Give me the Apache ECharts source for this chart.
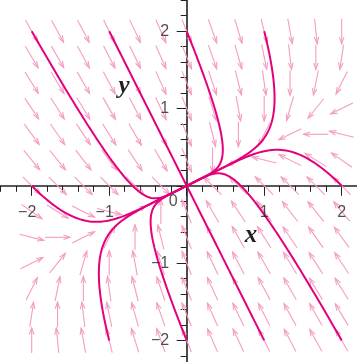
<!DOCTYPE html>
<html>
<head>
<meta charset="utf-8">
<script src="https://cdn.jsdelivr.net/npm/echarts@6/dist/echarts.min.js"></script>
<style>
  html, body { margin: 0; padding: 0; background: #ffffff; }
  #chart { width: 357px; height: 362px; }
</style>
</head>
<body>
<div id="chart"></div>
<script>
// Linear system:  x' = a11*x + a12*y ,  y' = a21*x + a22*y
const systemA = [[-2, 2], [2, -5]];

// Sample positions of the direction field (every 1/3 unit)
const fieldXs = [-2, -5 / 3, -4 / 3, -1, -2 / 3, -1 / 3, 0, 1 / 3, 2 / 3, 1, 4 / 3, 5 / 3, 2];
const fieldYs = [-2, -5 / 3, -4 / 3, -1, -2 / 3, -1 / 3, 0, 1 / 3, 2 / 3, 1, 4 / 3, 5 / 3, 2];

// Initial points of the plotted solution curves
const startPoints = [
  [-2, 2], [-1, 2], [0, 2], [1, 2], [2, 0],
  [2, -2], [1, -2], [0, -2], [-1, -2], [-2, 0]
];

// Axis extent, tick spacing and labelled ticks
const axisMin = -3, axisMax = 3, majorStep = 1, minorSplits = 5;
const xTickLabels = [-2, -1, 1, 2];
const yTickLabels = [2, 1, -1, -2];

const INK = '#231f20';
const CURVE = '#e4007c';
const FIELD = '#f59cc2';
const SANS = '"Liberation Sans", Arial, sans-serif';
const SERIF = '"Liberation Serif", "Times New Roman", serif';

function velocity(p) {
  return [
    systemA[0][0] * p[0] + systemA[0][1] * p[1],
    systemA[1][0] * p[0] + systemA[1][1] * p[1]
  ];
}

// RK4 integration of one solution curve toward the node at the origin
function solve(start) {
  const pts = [start.slice()];
  let p = start.slice();
  const dt = 0.005;
  for (let i = 0; i < 2400; i++) {
    const k1 = velocity(p);
    const k2 = velocity([p[0] + dt / 2 * k1[0], p[1] + dt / 2 * k1[1]]);
    const k3 = velocity([p[0] + dt / 2 * k2[0], p[1] + dt / 2 * k2[1]]);
    const k4 = velocity([p[0] + dt * k3[0], p[1] + dt * k3[1]]);
    p = [
      p[0] + dt / 6 * (k1[0] + 2 * k2[0] + 2 * k3[0] + k4[0]),
      p[1] + dt / 6 * (k1[1] + 2 * k2[1] + 2 * k3[1] + k4[1])
    ];
    pts.push(p.slice());
    if (Math.hypot(p[0], p[1]) < 0.002) break;
  }
  pts.push([0, 0]);
  return pts;
}

const fieldPoints = [];
fieldXs.forEach(function (x) {
  fieldYs.forEach(function (y) {
    if (Math.abs(x) > 1e-9 || Math.abs(y) > 1e-9) fieldPoints.push([x, y]);
  });
});

function renderArrow(params, api) {
  const x = api.value(0), y = api.value(1);
  const v = velocity([x, y]);
  const c = api.coord([x, y]);
  const n = Math.hypot(v[0], v[1]);
  const ux = v[0] / n, uy = -v[1] / n;
  const half = 12.5;
  const tail = [c[0] - ux * half, c[1] - uy * half];
  const tip = [c[0] + ux * half, c[1] + uy * half];
  const hl = 7, a = 0.33;
  const ca = Math.cos(a), sa = Math.sin(a);
  const b1 = [tip[0] - hl * (ux * ca - uy * sa), tip[1] - hl * (ux * sa + uy * ca)];
  const b2 = [tip[0] - hl * (ux * ca + uy * sa), tip[1] - hl * (-ux * sa + uy * ca)];
  const st = { stroke: FIELD, lineWidth: 1.1, fill: null };
  return {
    type: 'group',
    children: [
      { type: 'polyline', shape: { points: [tail, tip] }, style: st },
      { type: 'polyline', shape: { points: [b1, tip, b2] }, style: st }
    ]
  };
}

function signedLabel(v) {
  return v < 0 ? '\u2212' + Math.abs(v) : String(v);
}

const labelFont = { fontFamily: SANS, fontSize: 16, color: INK };

const series = [{
  type: 'custom',
  data: fieldPoints,
  renderItem: renderArrow,
  silent: true,
  z: 1
}];
startPoints.forEach(function (s) {
  series.push({
    type: 'line',
    data: solve(s),
    showSymbol: false,
    symbol: 'none',
    smooth: false,
    silent: true,
    lineStyle: { color: CURVE, width: 2 },
    z: 3
  });
});

// Tick labels along the x axis (digits centred on the tick, minus sign hanging left)
series.push({
  type: 'scatter',
  symbolSize: 0,
  silent: true,
  z: 5,
  data: xTickLabels.map(function (v) { return [v, 0]; }).concat([{
    value: [0, 0],
    label: { offset: [-13.4, 16], formatter: '{p|0}' }
  }]),
  label: {
    show: true,
    position: 'inside',
    offset: [0, 26.5],
    align: 'center',
    verticalAlign: 'middle',
    formatter: function (p) {
      const v = p.value[0];
      return v < 0 ? '{n|' + signedLabel(v) + '}' : '{p|' + v + '}';
    },
    rich: {
      n: Object.assign({ padding: [0, 9, 0, 0] }, labelFont),
      p: Object.assign({}, labelFont)
    }
  }
});

// Tick labels along the y axis
series.push({
  type: 'scatter',
  symbolSize: 0,
  silent: true,
  z: 5,
  data: yTickLabels.map(function (v) { return [0, v]; }),
  label: Object.assign({
    show: true,
    position: 'inside',
    offset: [-17.5, 0.5],
    align: 'right',
    verticalAlign: 'middle',
    formatter: function (p) { return signedLabel(p.value[1]); }
  }, labelFont)
});

function axisCommon() {
  return {
    type: 'value', min: axisMin, max: axisMax, interval: majorStep,
    axisLine: { onZero: true, lineStyle: { color: INK, width: 1.6 } },
    axisTick: { length: 10, lineStyle: { color: INK, width: 1 } },
    minorTick: { show: true, splitNumber: minorSplits, length: 6, lineStyle: { color: INK, width: 1 } },
    axisLabel: { show: false },
    splitLine: { show: false },
    minorSplitLine: { show: false }
  };
}

const chart = echarts.init(document.getElementById('chart'), null, { renderer: 'canvas' });
chart.setOption({
  animation: false,
  backgroundColor: '#ffffff',
  grid: { left: -45.8, top: -46.1, width: 465, height: 463.8, containLabel: false, outerBoundsMode: 'none' },
  xAxis: Object.assign(axisCommon(), { position: 'bottom' }),
  yAxis: Object.assign(axisCommon(), { position: 'left' }),
  series: series
});

// Italic axis names
chart.setOption({
  graphic: [
    { type: 'text', x: 124, y: 87, style: { text: 'y', font: 'italic bold 25px ' + SERIF, fill: INK, align: 'center', verticalAlign: 'middle' }, z: 10 },
    { type: 'text', x: 251, y: 236, style: { text: 'x', font: 'italic bold 25px ' + SERIF, fill: INK, align: 'center', verticalAlign: 'middle' }, z: 10 }
  ]
});
</script>
</body>
</html>
